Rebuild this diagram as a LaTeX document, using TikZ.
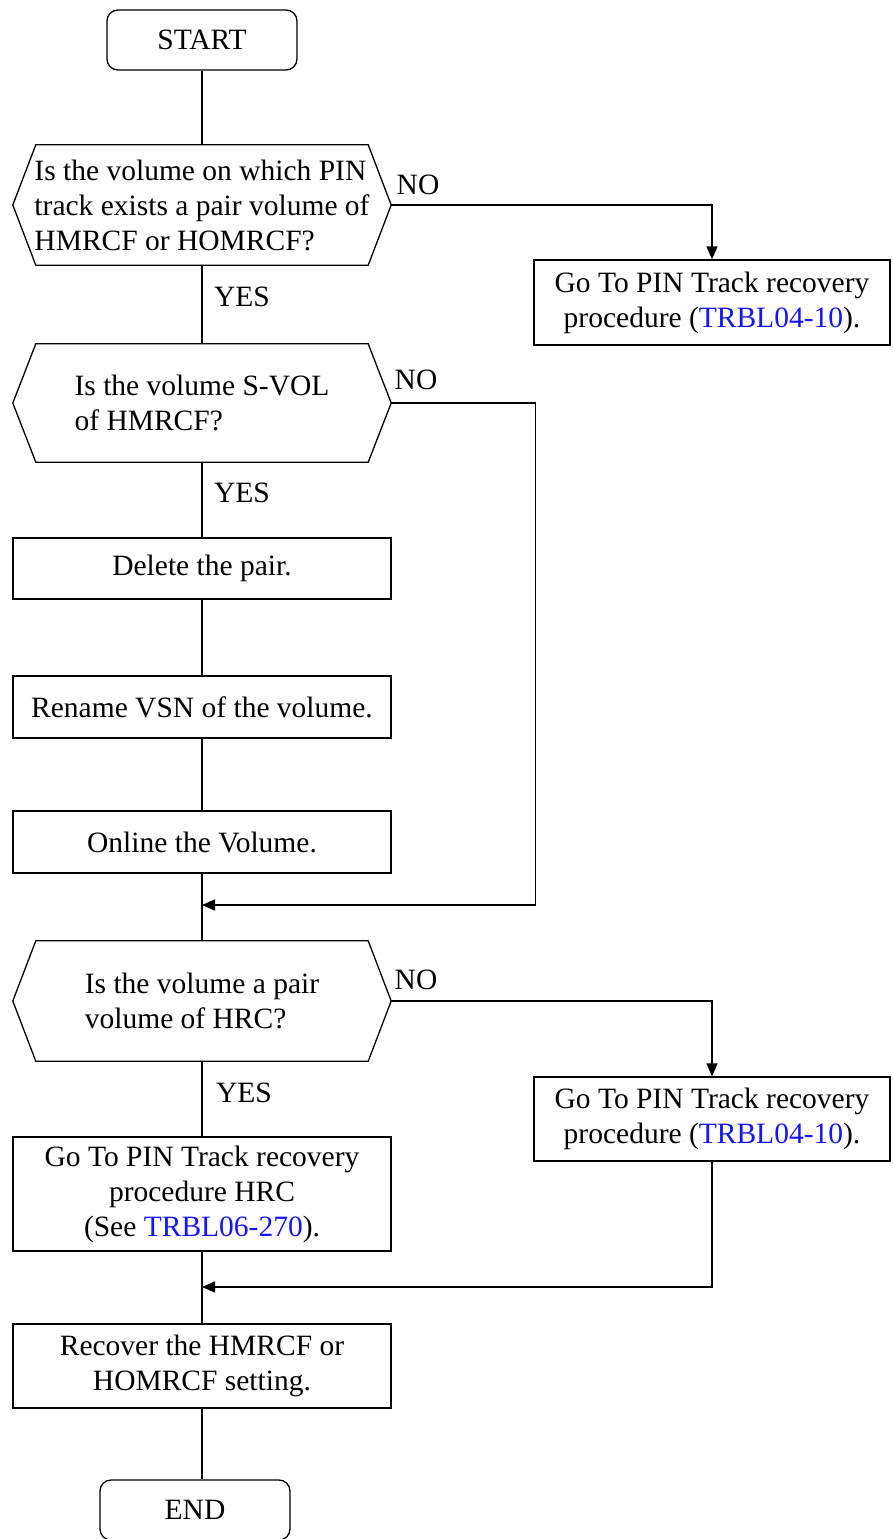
\documentclass[tikz,border=0pt]{standalone}
\usepackage{fontspec}
\setmainfont{Liberation Serif}
\usetikzlibrary{arrows.meta,positioning,calc}
\definecolor{linkblue}{HTML}{1414FF}
\newcommand{\lnk}[1]{\textcolor{linkblue}{#1}}
\newcommand{\hexframe}[1]{%
  \draw[line] ([xshift=23pt]#1.north west) -- ([xshift=-23pt]#1.north east) -- (#1.east)
    -- ([xshift=-23pt]#1.south east) -- ([xshift=23pt]#1.south west) -- (#1.west) -- cycle;}

\begin{document}
\begin{tikzpicture}[
      x=1pt, y=-1pt,
      font=\fontsize{29.5pt}{35pt}\selectfont,
      line/.style={line width=1.3pt},
      terminal/.style={draw, line width=1.3pt, rounded corners=11pt,
                       minimum width=190pt, minimum height=60pt, inner sep=0pt},
      proc/.style={draw, line width=1.3pt, minimum width=378pt,
                   align=center, inner sep=0pt},
      sideproc/.style={proc, minimum width=356pt, minimum height=85pt},
      decision/.style={minimum width=378pt, minimum height=120pt,
                       align=left, inner sep=0pt},
      lbl/.style={inner sep=0pt},
      edge/.style={-{Triangle[length=13pt,width=11pt]}, line width=1.3pt}
    ]
      \useasboundingbox (0,0) rectangle (892,1539);

      % Start
      \node[terminal] (start) at (202,40) {START};

      % first question
      \node[decision] (q1) at (202,205) {Is the volume on which PIN\\
        track exists a pair volume of\\ HMRCF or HOMRCF?};
      \hexframe{q1}
      \node[sideproc] (pin1) at (712,302.5) {Go To PIN Track recovery\\
        procedure (\lnk{TRBL04-10}).};

      % second question
      \node[decision, minimum height=118pt] (q2) at (202,403) {Is the volume S-VOL\\ of HMRCF?};
      \hexframe{q2}
      \node[proc, minimum height=61pt] (del) at (202,568.5) {Delete the pair.};
      \node[proc, minimum height=62pt] (ren) at (202,707) {Rename VSN of the volume.};
      \node[proc, minimum height=62pt] (onl) at (202,842) {Online the Volume.};
      \coordinate (join1) at (202,905);

      % third question
      \node[decision] (q3) at (202,1001) {Is the volume a pair\\ volume of HRC?};
      \hexframe{q3}
      \node[sideproc, minimum height=84pt] (pin2) at (712,1119) {Go To PIN Track recovery\\
        procedure (\lnk{TRBL04-10}).};
      \node[proc, minimum height=114pt] (hrc) at (202,1194) {Go To PIN Track recovery\\
        procedure HRC\\ (See \lnk{TRBL06-270}).};
      \coordinate (join2) at (202,1287);

      % end
      \node[proc, minimum height=84pt] (rec) at (202,1366) {Recover the HMRCF or\\ HOMRCF setting.};
      \node[terminal] (stop) at (195,1510) {END};

      % labels
      \node[lbl] (no1) at (418,185) {NO};
      \node[lbl] (yes1) at (242,297) {YES};
      \node[lbl] (no2) at (416,380) {NO};
      \node[lbl] (yes2) at (242,493) {YES};
      \node[lbl] (no3) at (416,980) {NO};
      \node[lbl] (yes3) at (244,1093) {YES};

      % Edges
      \draw[line] (start.south) -- (q1.north);
      \draw[edge] (q1.east) -| (pin1.north);
      \draw[line] (q1.south) -- (q2.north);
      \draw[line] (q2.south) -- (del.north);
      \draw[line] (del.south) -- (ren.north);
      \draw[line] (ren.south) -- (onl.north);
      \draw[edge] (q2.east) -- ++(144,0) |- (join1);
      \draw[line] (onl.south) -- (q3.north);
      \draw[edge] (q3.east) -| (pin2.north);
      \draw[line] (q3.south) -- (hrc.north);
      \draw[edge] (pin2.south) |- (join2);
      \draw[line] (hrc.south) -- (rec.north);
      \draw[line] (rec.south) -- (rec.south |- stop.north);
    \end{tikzpicture}
\end{document}
